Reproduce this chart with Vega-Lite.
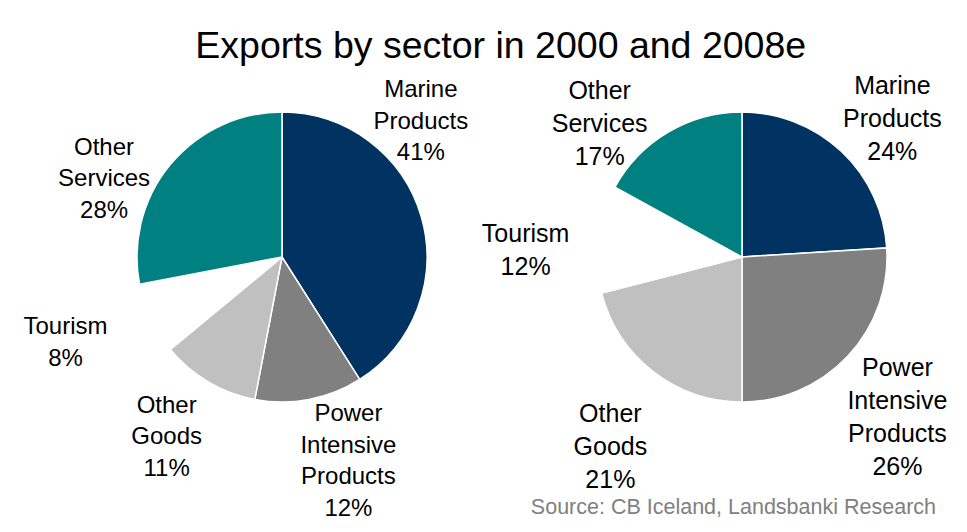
{
  "$schema": "https://vega.github.io/schema/vega-lite/v6.json",
  "background": "white",
  "padding": {"left": 23, "top": 4, "right": 5, "bottom": 5},
  "bounds": "flush",
  "title": {"text": "Exports by sector in 2000 and 2008e", "fontSize": 37.5, "font": "Liberation Sans", "fontWeight": "normal", "color": "black", "anchor": "middle", "dx": 8, "offset": -61},
  "config": {"view": {"stroke": null}, "font": "Liberation Sans"},
  "datasets": {
    "y2000": [
      {"sector": "Marine Products", "value": 41, "ord": 1, "label": "Marine\nProducts\n41%"},
      {"sector": "Power Intensive Products", "value": 12, "ord": 2, "label": "Power\nIntensive\nProducts\n12%"},
      {"sector": "Other Goods", "value": 11, "ord": 3, "label": "Other\nGoods\n11%"},
      {"sector": "Tourism", "value": 8, "ord": 4, "label": "Tourism\n8%"},
      {"sector": "Other Services", "value": 28, "ord": 5, "label": "Other\nServices\n28%"}
    ],
    "y2008": [
      {"sector": "Marine Products", "value": 24, "ord": 1, "label": "Marine\nProducts\n24%"},
      {"sector": "Power Intensive Products", "value": 26, "ord": 2, "label": "Power\nIntensive\nProducts\n26%"},
      {"sector": "Other Goods", "value": 21, "ord": 3, "label": "Other\nGoods\n21%"},
      {"sector": "Tourism", "value": 12, "ord": 4, "label": "Tourism\n12%"},
      {"sector": "Other Services", "value": 17, "ord": 5, "label": "Other\nServices\n17%"}
    ]
  },
  "spacing": 20,
  "hconcat": [
    {
      "width": 440, "height": 290,
      "data": {"name": "y2000"},
      "encoding": {
        "theta": {"field": "value", "type": "quantitative", "stack": true},
        "order": {"field": "ord", "type": "quantitative"}
      },
      "layer": [
        {"mark": {"type": "arc", "radius": 145, "stroke": "white", "strokeWidth": 1.5},
         "encoding": {"color": {"field": "sector", "type": "nominal", "legend": null,
           "scale": {"domain": ["Marine Products", "Power Intensive Products", "Other Goods", "Tourism", "Other Services"], "range": ["#003361", "#808080", "#c0c0c0", "#ffffff", "#008080"]}}}},
        {"mark": {"type": "text", "radius": 205, "dx": -58, "dy": -109.5, "fontSize": 24, "lineHeight": 31.5, "lineBreak": "\n", "color": "black"},
         "encoding": {"detail": {"field": "sector"}, "text": {"condition": {"test": "datum.sector === 'Marine Products'", "field": "label", "type": "nominal"}, "value": ""}}},
        {"mark": {"type": "text", "radius": 205, "dx": 28, "dy": -44, "fontSize": 24, "lineHeight": 31.5, "lineBreak": "\n", "color": "black"},
         "encoding": {"detail": {"field": "sector"}, "text": {"condition": {"test": "datum.sector === 'Power Intensive Products'", "field": "label", "type": "nominal"}, "value": ""}}},
        {"mark": {"type": "text", "radius": 205, "dx": -11, "dy": -27.5, "fontSize": 24, "lineHeight": 31.5, "lineBreak": "\n", "color": "black"},
         "encoding": {"detail": {"field": "sector"}, "text": {"condition": {"test": "datum.sector === 'Other Goods'", "field": "label", "type": "nominal"}, "value": ""}}},
        {"mark": {"type": "text", "radius": 205, "dx": -31, "dy": -17, "fontSize": 24, "lineHeight": 31.5, "lineBreak": "\n", "color": "black"},
         "encoding": {"detail": {"field": "sector"}, "text": {"condition": {"test": "datum.sector === 'Tourism'", "field": "label", "type": "nominal"}, "value": ""}}},
        {"mark": {"type": "text", "radius": 205, "dx": -20, "dy": 21.5, "fontSize": 24, "lineHeight": 31.5, "lineBreak": "\n", "color": "black"},
         "encoding": {"detail": {"field": "sector"}, "text": {"condition": {"test": "datum.sector === 'Other Services'", "field": "label", "type": "nominal"}, "value": ""}}}
      ]
    },
    {
      "width": 440, "height": 290,
      "data": {"name": "y2008"},
      "title": {"text": "Source: CB Iceland, Landsbanki Research", "orient": "bottom", "anchor": "end", "frame": "group", "dx": -26, "fontSize": 21.5, "fontWeight": "normal", "color": "#808080", "offset": 4},
      "encoding": {
        "theta": {"field": "value", "type": "quantitative", "stack": true},
        "order": {"field": "ord", "type": "quantitative"}
      },
      "layer": [
        {"mark": {"type": "arc", "radius": 145, "stroke": "white", "strokeWidth": 1.5},
         "encoding": {"color": {"field": "sector", "type": "nominal", "legend": null,
           "scale": {"domain": ["Marine Products", "Power Intensive Products", "Other Goods", "Tourism", "Other Services"], "range": ["#003361", "#808080", "#c0c0c0", "#ffffff", "#008080"]}}}},
        {"mark": {"type": "text", "radius": 205, "dx": 10, "dy": -22, "fontSize": 25, "lineHeight": 33, "lineBreak": "\n", "color": "black"},
         "encoding": {"detail": {"field": "sector"}, "text": {"condition": {"test": "datum.sector === 'Marine Products'", "field": "label", "type": "nominal"}, "value": ""}}},
        {"mark": {"type": "text", "radius": 205, "dx": 6, "dy": -29.25, "fontSize": 25, "lineHeight": 33, "lineBreak": "\n", "color": "black"},
         "encoding": {"detail": {"field": "sector"}, "text": {"condition": {"test": "datum.sector === 'Power Intensive Products'", "field": "label", "type": "nominal"}, "value": ""}}},
        {"mark": {"type": "text", "radius": 205, "dx": -6, "dy": -5, "fontSize": 25, "lineHeight": 33, "lineBreak": "\n", "color": "black"},
         "encoding": {"detail": {"field": "sector"}, "text": {"condition": {"test": "datum.sector === 'Other Goods'", "field": "label", "type": "nominal"}, "value": ""}}},
        {"mark": {"type": "text", "radius": 205, "dx": -13, "dy": 2.5, "fontSize": 25, "lineHeight": 33, "lineBreak": "\n", "color": "black"},
         "encoding": {"detail": {"field": "sector"}, "text": {"condition": {"test": "datum.sector === 'Tourism'", "field": "label", "type": "nominal"}, "value": ""}}},
        {"mark": {"type": "text", "radius": 205, "dx": -38, "dy": 10, "fontSize": 25, "lineHeight": 33, "lineBreak": "\n", "color": "black"},
         "encoding": {"detail": {"field": "sector"}, "text": {"condition": {"test": "datum.sector === 'Other Services'", "field": "label", "type": "nominal"}, "value": ""}}}
      ]
    }
  ]
}
